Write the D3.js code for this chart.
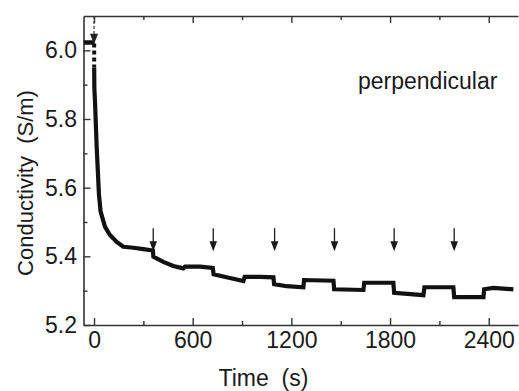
<!DOCTYPE html>
<html>
<head>
<meta charset="utf-8">
<script src="https://cdn.jsdelivr.net/npm/d3@7"></script>
<style>
  body { margin: 0; background: #fff; }
  text { font-family: "Liberation Sans", Arial, sans-serif; fill: #1a1a1a; }
  .axis path, .axis line { stroke: #333; }
</style>
</head>
<body>
<script>
var w = 519;
var h = 391;

// data
var startTime = [-64, 2];
var startCond = [6.023, 6.023];

var dropTime = [1, 1];
var dropCond = [6.02, 5.95];

var curveTime = [1, 2, 6, 16, 30, 40, 67, 97, 138, 178, 239, 300, 358, 361, 421, 482, 543, 553, 645, 722, 727,
  806, 908, 916, 1010, 1091, 1095, 1172, 1273, 1277, 1456, 1460, 1638, 1643, 1820, 1825, 2003, 2009,
  2185, 2190, 2368, 2372, 2429, 2550];
var curveCond = [5.95, 5.89, 5.85, 5.72, 5.58, 5.53, 5.486, 5.462, 5.442, 5.428, 5.425, 5.421, 5.417, 5.399,
  5.384, 5.372, 5.365, 5.370, 5.370, 5.366, 5.348, 5.339, 5.328, 5.340, 5.340, 5.339, 5.319, 5.313,
  5.310, 5.331, 5.329, 5.304, 5.302, 5.323, 5.323, 5.294, 5.287, 5.310, 5.310, 5.281, 5.281, 5.304,
  5.308, 5.304];

var arrowTimes = [360, 725, 1098, 1462, 1825, 2190];
var arrowTop = 5.482;
var arrowTip = 5.415;

var xTicks = [0, 600, 1200, 1800, 2400];
var xMinor = [300, 900, 1500, 2100];
var yTicks = [5.2, 5.4, 5.6, 5.8, 6.0];
var yMinor = [5.3, 5.5, 5.7, 5.9];

var padL = 83.5, padR = 518, padT = 16, padB = 325;

var xScale = d3.scaleLinear().domain([-64, 2578]).range([padL, padR]);
var yScale = d3.scaleLinear().domain([5.2, 6.1]).range([padB, padT]);

var svg = d3.select("body")
  .append("svg")
  .attr("width", w)
  .attr("height", h);

svg.append("defs").append("clipPath")
  .attr("id", "clip")
  .append("rect")
  .attr("x", padL).attr("y", padT)
  .attr("width", padR - padL).attr("height", padB - padT);

// axes
function styleAxis(g) {
  g.select(".domain").attr("stroke-width", 1.6);
  g.selectAll(".tick line").attr("stroke-width", 1.4);
  g.selectAll("text").attr("font-size", 23);
}
function minorOnly(g) {
  g.select(".domain").remove();
  g.selectAll(".tick line").attr("stroke-width", 1.4);
}

svg.append("g")
  .attr("class", "axis")
  .attr("transform", "translate(0," + padB + ")")
  .call(d3.axisBottom(xScale).tickValues(xTicks).tickSizeInner(-7).tickSizeOuter(0).tickPadding(7).tickFormat(d3.format("d")))
  .call(styleAxis);
svg.append("g")
  .attr("class", "axis")
  .attr("transform", "translate(0," + padB + ")")
  .call(d3.axisBottom(xScale).tickValues(xMinor).tickSizeInner(-4).tickSizeOuter(0).tickFormat(""))
  .call(minorOnly);

svg.append("g")
  .attr("class", "axis")
  .attr("transform", "translate(0," + padT + ")")
  .call(d3.axisTop(xScale).tickValues(xTicks).tickSizeInner(-7).tickSizeOuter(0).tickFormat(""))
  .call(styleAxis);
svg.append("g")
  .attr("class", "axis")
  .attr("transform", "translate(0," + padT + ")")
  .call(d3.axisTop(xScale).tickValues(xMinor).tickSizeInner(-4).tickSizeOuter(0).tickFormat(""))
  .call(minorOnly);

svg.append("g")
  .attr("class", "axis")
  .attr("transform", "translate(" + padL + ",0)")
  .call(d3.axisLeft(yScale).tickValues(yTicks).tickSizeInner(-7).tickSizeOuter(0).tickPadding(6.5).tickFormat(d3.format(".1f")))
  .call(styleAxis);
svg.append("g")
  .attr("class", "axis")
  .attr("transform", "translate(" + padL + ",0)")
  .call(d3.axisLeft(yScale).tickValues(yMinor).tickSizeInner(-4).tickSizeOuter(0).tickFormat(""))
  .call(minorOnly);

// curve
var line = d3.line()
  .x(function(d) { return xScale(d[0]); })
  .y(function(d) { return yScale(d[1]); });

var plot = svg.append("g").attr("clip-path", "url(#clip)");

plot.append("path")
  .datum(d3.zip(startTime, startCond))
  .attr("d", line)
  .attr("fill", "none")
  .attr("stroke", "#111")
  .attr("stroke-width", 4.5);

plot.append("path")
  .datum(d3.zip(dropTime, dropCond))
  .attr("d", line)
  .attr("fill", "none")
  .attr("stroke", "#111")
  .attr("stroke-width", 4)
  .attr("stroke-dasharray", "4,3");

plot.append("path")
  .datum(d3.zip(curveTime, curveCond))
  .attr("d", line)
  .attr("fill", "none")
  .attr("stroke", "#111")
  .attr("stroke-width", 4.2)
  .attr("stroke-linejoin", "miter");

// start marker: dashed line with arrow head
plot.append("line")
  .attr("x1", xScale(0)).attr("x2", xScale(0))
  .attr("y1", yScale(6.1)).attr("y2", yScale(6.045))
  .attr("stroke", "#333")
  .attr("stroke-width", 1.2)
  .attr("stroke-dasharray", "3,2");
plot.append("path")
  .attr("d", "M" + (xScale(0) - 4) + "," + yScale(6.048) + "L" + (xScale(0) + 4) + "," + yScale(6.048) +
    "L" + xScale(0) + "," + yScale(6.018) + "Z")
  .attr("fill", "#222");

// arrows
var arrows = svg.selectAll(".arrow")
  .data(arrowTimes)
  .enter()
  .append("g")
  .attr("class", "arrow");

arrows.append("line")
  .attr("x1", function(d) { return xScale(d); })
  .attr("x2", function(d) { return xScale(d); })
  .attr("y1", yScale(arrowTop))
  .attr("y2", yScale(arrowTip) - 6)
  .attr("stroke", "#1a1a1a")
  .attr("stroke-width", 1.3);

arrows.append("path")
  .attr("d", function(d) {
    var x = xScale(d), y = yScale(arrowTip);
    return "M" + (x - 3.8) + "," + (y - 10) + "L" + (x + 3.8) + "," + (y - 10) + "L" + x + "," + y + "Z";
  })
  .attr("fill", "#1a1a1a");

// labels
svg.append("text")
  .attr("x", 358)
  .attr("y", 89)
  .attr("font-size", 23)
  .text("perpendicular");

svg.append("text")
  .attr("x", 263.5)
  .attr("y", 386)
  .attr("text-anchor", "middle")
  .attr("font-size", 23)
  .style("white-space", "pre")
  .text("Time  (s)");

svg.append("text")
  .attr("transform", "translate(33,183) rotate(-90)")
  .attr("text-anchor", "middle")
  .attr("font-size", 22)
  .style("white-space", "pre")
  .text("Conductivity  (S/m)");
</script>
</body>
</html>
